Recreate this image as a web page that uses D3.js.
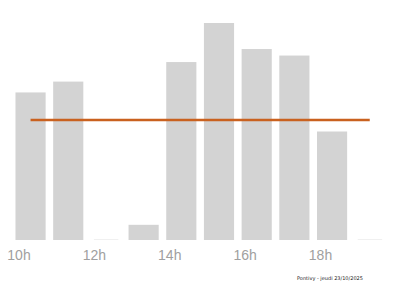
<!DOCTYPE html>
<html>
<head>
<script src="https://d3js.org/d3.v7.min.js"></script>
<style>
  body { margin: 0; background: #fff; font-family: "DejaVu Sans", sans-serif; }
  .bar { fill: #d3d3d3; }
  .tick text { fill: #a0a0a0; font-size: 14px; }
</style>
</head>
<body>
<script>
// affluence per hour (relative)
var hours = [10, 11, 12, 13, 14, 15, 16, 17, 18, 19];
var values = [68, 73, 0, 7, 82, 100, 88, 85, 50, 0];
var tickHours = [10, 12, 14, 16, 18];
var footer = "Pontivy - jeudi 23/10/2025";

var width = 400, height = 286;

var svg = d3.select("body").append("svg")
    .attr("width", width)
    .attr("height", height);

// hour scale: tick label sits at the hour, bar runs just after it
var x = d3.scaleLinear().domain([10, 18]).range([18.5, 320]);
var y = d3.scaleLinear().domain([0, 100]).range([240, 23]);

var data = hours.map(function(h, i) { return { h: h, v: values[i] }; });

// bars
svg.selectAll(".bar")
    .data(data.filter(function(d) { return d.v > 0; }))
    .enter().append("rect")
    .attr("class", "bar")
    .attr("x", function(d) { return x(d.h - 0.08); })
    .attr("width", function(d) { return x(d.h + 0.72) - x(d.h - 0.08); })
    .attr("y", function(d) { return y(d.v); })
    .attr("height", function(d) { return y(0) - y(d.v); });

// empty hours: faint baseline
svg.selectAll(".empty")
    .data(data.filter(function(d) { return d.v === 0; }))
    .enter().append("line")
    .attr("x1", function(d) { return x(d.h); })
    .attr("x2", function(d) { return x(d.h + 0.65); })
    .attr("y1", y(0) - 0.5)
    .attr("y2", y(0) - 0.5)
    .attr("stroke", "#f0f0f0")
    .attr("stroke-width", 1);

// mean line
var mean = d3.mean(values);
svg.append("line")
    .attr("x1", x(hours[0] + 0.32))
    .attr("x2", x(hours[hours.length - 1] + 0.32))
    .attr("y1", y(mean))
    .attr("y2", y(mean))
    .attr("stroke", "#c9611f")
    .attr("stroke-width", 2.5);

// x axis
var axis = svg.append("g")
    .attr("transform", "translate(0,250)")
    .call(d3.axisBottom(x).tickValues(tickHours)
        .tickFormat(function(d) { return d + "h"; })
        .tickSize(0).tickPadding(0));
axis.select(".domain").remove();
axis.selectAll("text").attr("dy", "0.71em");

// footer
svg.append("text")
    .attr("x", 330)
    .attr("y", 280)
    .attr("text-anchor", "middle")
    .attr("font-size", "5px")
    .attr("fill", "#222")
    .text(footer);
</script>
</body>
</html>
